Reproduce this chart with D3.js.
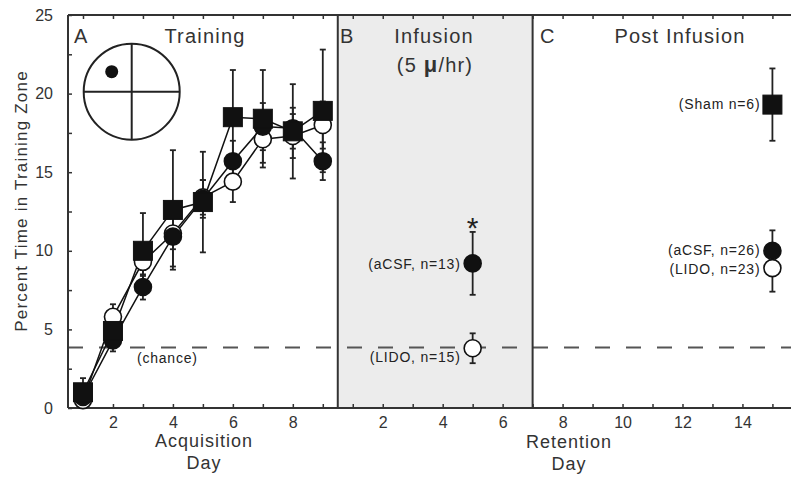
<!DOCTYPE html>
<html>
<head>
<meta charset="utf-8">
<script src="https://cdn.jsdelivr.net/npm/d3@7"></script>
<style>
  body { margin: 0; background: #fff; }
  svg { display: block; font-family: "Liberation Sans", Arial, sans-serif; }
  .tick text { font-size: 16px; fill: #333; }
  .tick line { stroke: #333; stroke-width: 1.5; }
</style>
</head>
<body>
<div id="chart"></div>
<script>
// Acquisition (training) days 1-9, retention days continue after day 9
const acqDays = [1, 2, 3, 4, 5, 6, 7, 8, 9];
const shamMean = [1.0, 4.9, 10.0, 12.6, 13.1, 18.5, 18.4, 17.6, 18.9];
const shamErr  = [0.9, 1.0, 2.4, 3.8, 3.2, 3.0, 3.1, 3.0, 3.9];
const csfMean  = [0.7, 4.3, 7.7, 10.9, 13.3, 15.7, 17.9, 17.8, 15.7];
const csfErr   = [0.4, 0.7, 0.8, 1.9, 1.2, 1.3, 1.5, 1.3, 1.2];
const lidoMean = [0.5, 5.8, 9.3, 11.1, 13.4, 14.4, 17.1, 17.3, 18.0];
const lidoErr  = [0.3, 0.8, 0.9, 1.0, 1.1, 1.3, 1.5, 1.4, 1.5];

// Retention points: retention day, mean, sem, marker, label
const infusionPoints = [
  { day: 5, mean: 9.2, err: 2.0, kind: 'filled', label: '(aCSF, n=13)', dy: 5.5 },
  { day: 5, mean: 3.8, err: 0.95, kind: 'open', label: '(LIDO, n=15)', dy: 14 }
];
const postPoints = [
  { day: 15, mean: 19.3, err: 2.3, kind: 'square', label: '(Sham n=6)', dy: 4.5 },
  { day: 15, mean: 10.0, err: 1.3, kind: 'filled', label: '(aCSF, n=26)', dy: 4.5 },
  { day: 15, mean: 8.9, err: 1.5, kind: 'open', label: '(LIDO, n=23)', dy: 6 }
];

const chanceLevel = 3.85;
const yTicks = [0, 2.5, 5, 7.5, 10, 12.5, 15, 17.5, 20, 22.5, 25];
const acqLabels = [2, 4, 6, 8];
const retLabels = [2, 4, 6, 8, 10, 12, 14];
const retOffset = 9;          // retention day 1 sits right after acquisition day 9
const panelBreaks = [0.5, 7]; // retention days bounding the infusion panel

const width = 791, height = 477;
const svg = d3.select('#chart').append('svg')
  .attr('width', width).attr('height', height);

const x = d3.scaleLinear().domain([0.5, 24.62]).range([68, 791]);
const y = d3.scaleLinear().domain([0, 25]).range([408, 15]);

// Infusion panel shading
svg.append('rect')
  .attr('x', x(retOffset + panelBreaks[0]))
  .attr('y', y(25))
  .attr('width', x(retOffset + panelBreaks[1]) - x(retOffset + panelBreaks[0]))
  .attr('height', y(0) - y(25))
  .attr('fill', '#ececec');

// Chance line
svg.append('line')
  .attr('x1', x(0.5)).attr('x2', width)
  .attr('y1', y(chanceLevel)).attr('y2', y(chanceLevel))
  .attr('stroke', '#555').attr('stroke-width', 2)
  .attr('stroke-dasharray', '15,16');

// Axes with inward ticks
const allDays = d3.range(1, 25);
svg.append('g')
  .attr('transform', `translate(0,${y(0)})`)
  .call(d3.axisBottom(x).tickValues(allDays).tickSize(-4).tickPadding(9)
    .tickFormat(d => {
      if (d <= 9) return acqLabels.includes(d) ? d : '';
      return retLabels.includes(d - retOffset) ? d - retOffset : '';
    }))
  .call(g => g.select('.domain').remove());

svg.append('g')
  .attr('transform', `translate(0,${y(25)})`)
  .call(d3.axisTop(x).tickValues(allDays).tickSize(-4).tickFormat(''))
  .call(g => g.select('.domain').remove());

svg.append('g')
  .attr('transform', `translate(${x(0.5)},0)`)
  .call(d3.axisLeft(y).tickValues(yTicks).tickSize(-4).tickPadding(15)
    .tickFormat(d => d % 5 === 0 ? d : ''))
  .call(g => g.select('.domain').remove());

// Frame
const frame = svg.append('g').attr('stroke', '#333').attr('stroke-width', 2);
frame.append('line').attr('x1', x(0.5)).attr('x2', width).attr('y1', y(0)).attr('y2', y(0));
frame.append('line').attr('x1', x(0.5)).attr('x2', width).attr('y1', y(25)).attr('y2', y(25));
frame.append('line').attr('x1', x(0.5)).attr('x2', x(0.5)).attr('y1', y(0)).attr('y2', y(25));
panelBreaks.forEach(b => {
  frame.append('line').attr('x1', x(retOffset + b)).attr('x2', x(retOffset + b))
    .attr('y1', y(0)).attr('y2', y(25));
});

// Marker helpers
function drawErr(g, px, mean, err) {
  const eb = g.append('g').attr('stroke', '#222').attr('stroke-width', 1.8);
  eb.append('line').attr('x1', x(px)).attr('x2', x(px)).attr('y1', y(mean - err)).attr('y2', y(mean + err));
  [mean - err, mean + err].forEach(v => {
    eb.append('line').attr('x1', x(px) - 3).attr('x2', x(px) + 3).attr('y1', y(v)).attr('y2', y(v));
  });
}
function drawMarker(g, px, mean, kind) {
  if (kind === 'square') {
    g.append('rect').attr('x', x(px) - 9.5).attr('y', y(mean) - 9.5)
      .attr('width', 19).attr('height', 19)
      .attr('fill', '#111').attr('stroke', '#111').attr('stroke-width', 1);
  } else {
    g.append('circle').attr('cx', x(px)).attr('cy', y(mean)).attr('r', 8.5)
      .attr('fill', kind === 'filled' ? '#111' : '#fff')
      .attr('stroke', '#111').attr('stroke-width', 1.6);
  }
}

// Training curves
const training = [
  { mean: lidoMean, err: lidoErr, kind: 'open' },
  { mean: csfMean, err: csfErr, kind: 'filled' },
  { mean: shamMean, err: shamErr, kind: 'square' }
];
const line = d3.line().x(d => x(d[0])).y(d => y(d[1]));
const trainG = svg.append('g');
training.forEach(s => {
  trainG.append('path')
    .datum(acqDays.map((d, i) => [d, s.mean[i]]))
    .attr('d', line).attr('fill', 'none')
    .attr('stroke', '#111').attr('stroke-width', 1.5);
});
training.forEach(s => {
  acqDays.forEach((d, i) => drawErr(trainG, d, s.mean[i], s.err[i]));
});
training.forEach(s => {
  acqDays.forEach((d, i) => drawMarker(trainG, d, s.mean[i], s.kind));
});

// Retention points with labels
const retG = svg.append('g');
infusionPoints.concat(postPoints).forEach(p => {
  drawErr(retG, retOffset + p.day, p.mean, p.err);
});
infusionPoints.concat(postPoints).forEach(p => {
  const px = retOffset + p.day;
  drawMarker(retG, px, p.mean, p.kind);
  retG.append('text')
    .attr('x', x(px) - 12).attr('y', y(p.mean) + p.dy)
    .attr('text-anchor', 'end')
    .attr('font-size', '14px').attr('letter-spacing', '0.8px').attr('fill', '#222')
    .text(p.label);
});

// Significance marker
svg.append('text')
  .attr('x', x(retOffset + 5)).attr('y', 238)
  .attr('text-anchor', 'middle').attr('font-size', '30px').attr('fill', '#222')
  .text('*');

// Chance label
svg.append('text')
  .attr('x', x(2.8)).attr('y', y(chanceLevel) + 16)
  .attr('font-size', '14px').attr('letter-spacing', '0.8px').attr('fill', '#222')
  .text('(chance)');

// Water maze icon
const icon = svg.append('g').attr('stroke', '#222').attr('stroke-width', 2).attr('fill', 'none');
icon.append('circle').attr('cx', 131.7).attr('cy', 91.7).attr('r', 48);
icon.append('line').attr('x1', 131.7).attr('x2', 131.7).attr('y1', 43.7).attr('y2', 139.7);
icon.append('line').attr('x1', 83.7).attr('x2', 179.7).attr('y1', 91.7).attr('y2', 91.7);
svg.append('circle').attr('cx', 111.7).attr('cy', 71.7).attr('r', 6.5).attr('fill', '#111');

// Panel titles
const titles = svg.append('g').attr('fill', '#333').attr('font-size', '20px');
titles.append('text').attr('x', 74).attr('y', 43).text('A');
titles.append('text').attr('x', 205).attr('y', 43).attr('text-anchor', 'middle')
  .attr('letter-spacing', '1.2px').text('Training');
titles.append('text').attr('x', 340).attr('y', 43).text('B');
titles.append('text').attr('x', 434).attr('y', 43).attr('text-anchor', 'middle')
  .attr('letter-spacing', '1.2px').text('Infusion');
const sub = titles.append('text').attr('x', 435).attr('y', 72).attr('text-anchor', 'middle')
  .attr('letter-spacing', '1.2px');
sub.append('tspan').text('(5 ');
sub.append('tspan').attr('font-weight', 'bold').attr('font-size', '22px').text('μ');
sub.append('tspan').text('/hr)');
titles.append('text').attr('x', 540).attr('y', 43).text('C');
titles.append('text').attr('x', 680).attr('y', 43).attr('text-anchor', 'middle')
  .attr('letter-spacing', '1.2px').text('Post Infusion');

// Axis titles
const axisTitles = svg.append('g').attr('fill', '#333').attr('font-size', '18px')
  .attr('letter-spacing', '1px').attr('text-anchor', 'middle');
axisTitles.append('text').attr('x', 204).attr('y', 447).text('Acquisition');
axisTitles.append('text').attr('x', 204).attr('y', 469).text('Day');
axisTitles.append('text').attr('x', 569).attr('y', 448).text('Retention');
axisTitles.append('text').attr('x', 569).attr('y', 470).text('Day');
svg.append('text')
  .attr('transform', 'translate(27,201) rotate(-90)')
  .attr('text-anchor', 'middle').attr('font-size', '17px').attr('letter-spacing', '1.2px')
  .attr('fill', '#333')
  .text('Percent Time in Training Zone');
</script>
</body>
</html>
